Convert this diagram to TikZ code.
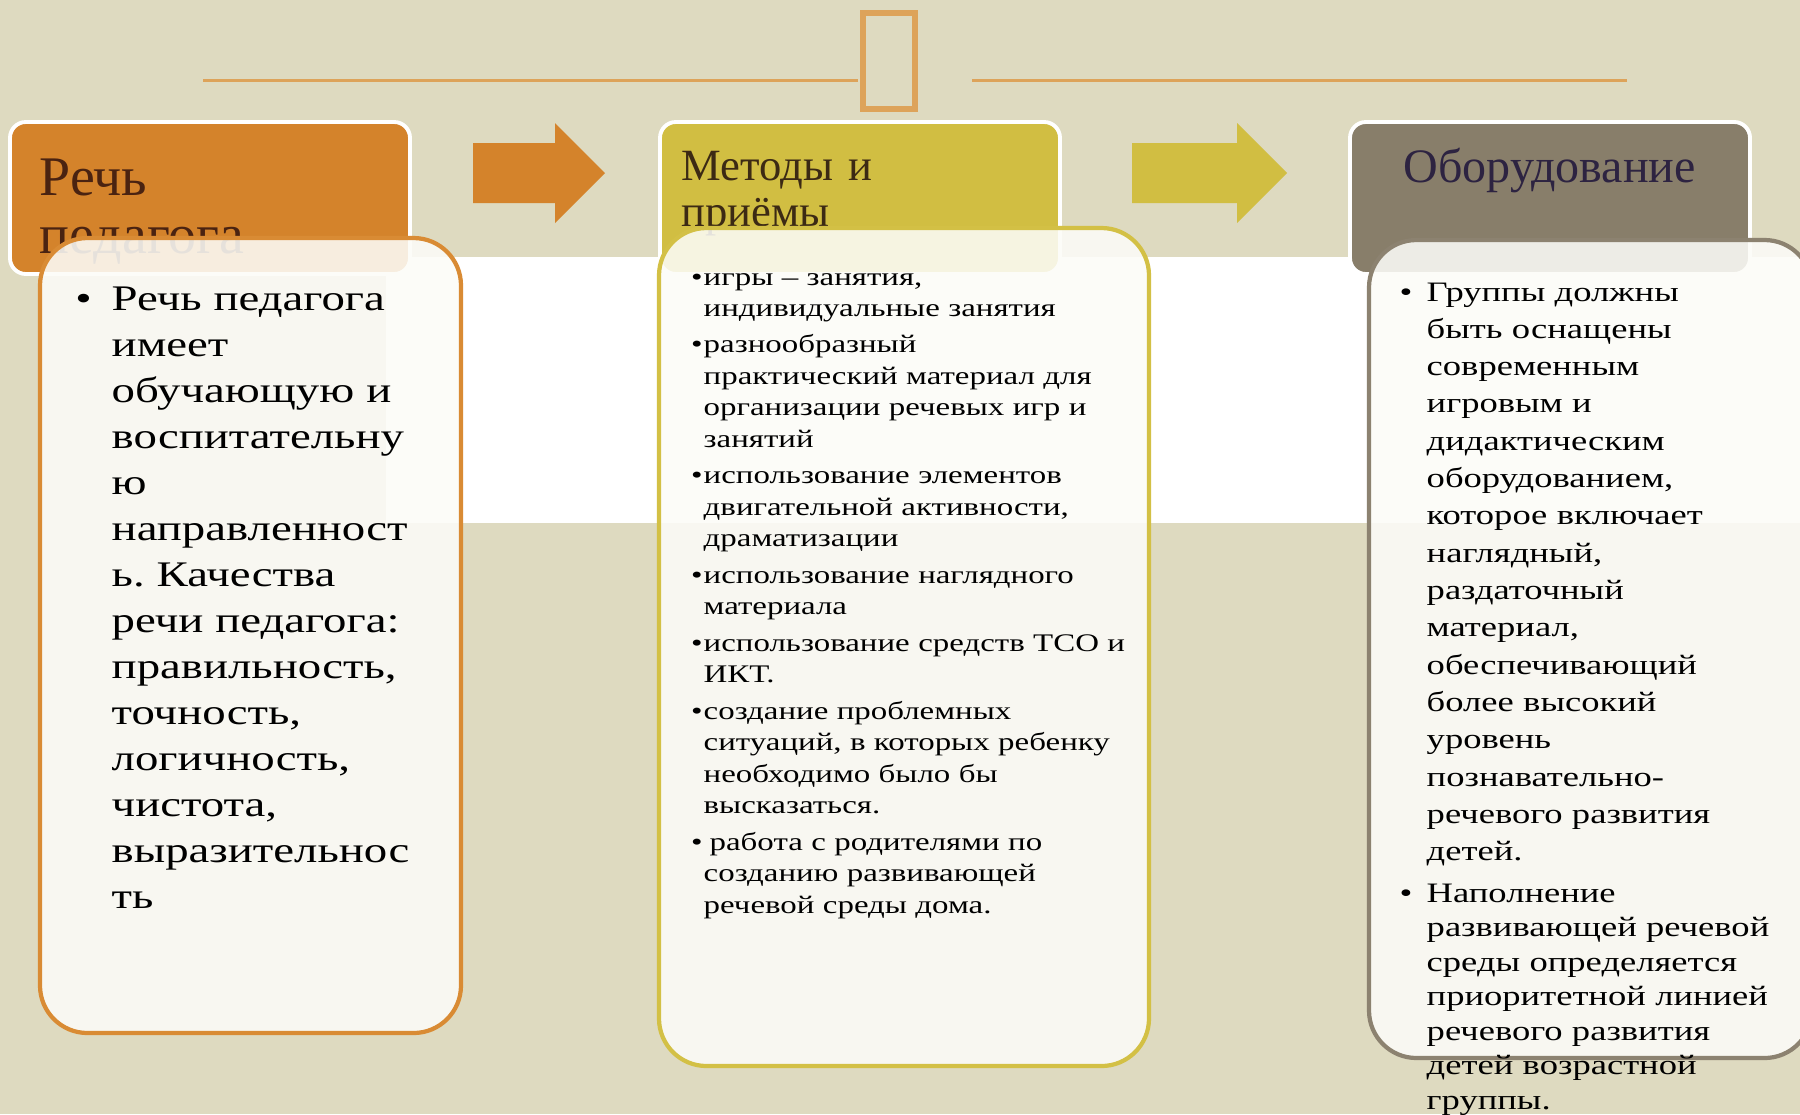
\documentclass[tikz,border=0pt]{standalone}
\usepackage{fontspec}
\setmainfont{Liberation Serif}
\newfontfamily\wideserif[FakeStretch=1.3]{Liberation Serif}
\usetikzlibrary{calc}
\frenchspacing

\definecolor{bgbeige}{RGB}{222,218,192}
\definecolor{hdorange}{RGB}{212,131,43}
\definecolor{hdyellow}{RGB}{209,190,66}
\definecolor{hdgrey}{RGB}{136,126,106}
\definecolor{deco}{RGB}{221,163,90}
\definecolor{cardfill}{RGB}{252,252,248}
\definecolor{rimorange}{RGB}{217,139,52}
\definecolor{rimyellow}{RGB}{211,192,69}
\definecolor{rimgrey}{RGB}{140,130,112}
\definecolor{inkbrown}{RGB}{74,35,17}
\definecolor{inkolive}{RGB}{60,42,20}
\definecolor{inkplum}{RGB}{45,35,65}

\newcommand{\bul}[1]{\leavevmode\llap{\textbullet\hspace{#1}}}

\tikzset{
  headbox/.style={draw=white, line width=1.1pt, rounded corners=4.5pt},
  card/.style={line width=1.2pt, rounded corners=13.5pt, fill=cardfill, fill opacity=0.88},
  title/.style={anchor=base west, inner sep=0, align=left, text width=5cm},
  list/.style={anchor=base west, inner sep=0, align=left, text width=6cm, text=black},
}

\begin{document}
\begin{tikzpicture}[x=0.01cm, y=-0.01cm]
\useasboundingbox (0,0) rectangle (1800,1114);
\clip (0,0) rectangle (1800,1114);
\fill[bgbeige] (0,0) rectangle (1800,1114);
\fill[white] (386,257) rectangle (1800,523);
\draw[deco, line width=0.85pt] (203,80) -- (858,80) (972,80) -- (1627,80);
\draw[deco, line width=1.6pt] (863,13) rectangle (915,109);

\foreach \x/\col in {10/hdorange,660/hdyellow,1350/hdgrey}
  \draw[headbox, fill=\col] (\x,122) rectangle ++(400,152);
\foreach \xa/\xb/\col in {473/555/hdorange,1132/1237/hdyellow}
  \fill[\col] (\xa,143) -- (\xb,143) -- (\xb,123) -- (\xb+50,173) -- (\xb,223) -- (\xb,203) -- (\xa,203) -- cycle;

\node[title, text=inkbrown, font=\fontsize{15.9}{16.5}\selectfont] (titleA) at (39,195) {Речь\\педагога};
\node[title, text=inkolive, font=\fontsize{12.7}{13.1}\selectfont] (titleB) at (681,180) {Методы и\\приёмы};
\node[title, text=inkplum, font=\fontsize{13.66}{14}\selectfont] (titleC) at (1403,182) {Оборудование};

\draw[card, draw=rimorange] (40,238) rectangle (461,1033);
\draw[card, draw=rimyellow] (659,228) rectangle (1149,1066);
\draw[card, draw=rimgrey] (1369,240) rectangle (1812,1058);

\node[list, font=\wideserif\fontsize{10.24}{13.09}\selectfont] (listA) at (111,310) {\bul{5.7pt}Речь педагога\\имеет\\обучающую и\\воспитательну\\ю\\направленност\\ь. Качества\\речи педагога:\\правильность,\\точность,\\логичность,\\чистота,\\выразительнос\\ть};
\node[list, font=\wideserif\fontsize{7.2}{8.96}\selectfont] (listB) at (703,285) {\bul{0.3pt}игры – занятия,\\индивидуальные занятия\\[1.4pt]\bul{0.3pt}разнообразный\\практический материал для\\организации речевых игр и\\занятий\\[1.4pt]\bul{0.3pt}использование элементов\\двигательной активности,\\драматизации\\[1.4pt]\bul{0.3pt}использование наглядного\\материала\\[1.4pt]\bul{0.3pt}использование средств ТСО и\\ИКТ.\\[1.4pt]\bul{0.3pt}создание проблемных\\ситуаций, в которых ребенку\\необходимо было бы\\высказаться.\\[1.4pt]\bul{0.3pt}\hspace*{1.7pt}работа с родителями по\\созданию развивающей\\речевой среды дома.};
\node[list, font=\wideserif\fontsize{8.0}{10.61}\selectfont] (listC) at (1426,301) {\bul{4.1pt}Группы должны\\быть оснащены\\современным\\игровым и\\дидактическим\\оборудованием,\\которое включает\\наглядный,\\раздаточный\\материал,\\обеспечивающий\\более высокий\\уровень\\познавательно-\\речевого развития\\детей.};
\node[list, font=\wideserif\fontsize{8.0}{9.82}\selectfont] (listD) at (1426,902) {\bul{4.1pt}Наполнение\\развивающей речевой\\среды определяется\\приоритетной линией\\речевого развития\\детей возрастной\\группы.};
\end{tikzpicture}
\end{document}
